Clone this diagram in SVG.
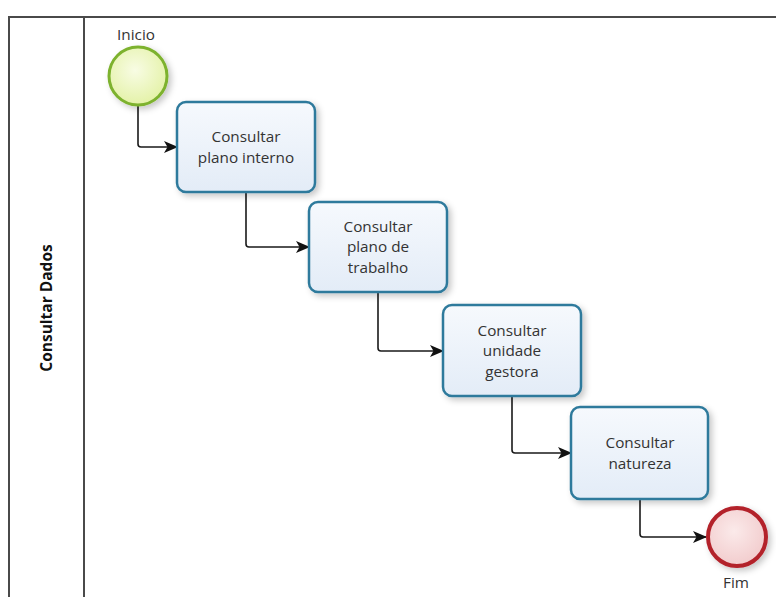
<svg xmlns="http://www.w3.org/2000/svg" width="776" height="597" viewBox="0 0 776 597">
  <style>
    .pool { fill: none; stroke: #4a4a4a; stroke-width: 2; }
    .task rect { fill: url(#taskFill); stroke: #2f7a9c; stroke-width: 2.5; filter: url(#shadow); }
    .label { font-family: "Open Sans", "Noto Sans", sans-serif; font-size: 15.3px; fill: #333; text-anchor: middle; }
    .lane { font-family: "Open Sans", "Noto Sans", sans-serif; font-size: 15.5px; font-weight: bold; fill: #111; text-anchor: middle; }
    .flow { fill: none; stroke: #1a1a1a; stroke-width: 1.6; marker-end: url(#arrow); }
  </style>
  <defs>
    <linearGradient id="taskFill" x1="0" y1="0" x2="0" y2="1">
      <stop offset="0" stop-color="#f6f9fd"/>
      <stop offset="1" stop-color="#e3ecf7"/>
    </linearGradient>
    <radialGradient id="startFill" cx="0.45" cy="0.4" r="0.6">
      <stop offset="0" stop-color="#f8fce4"/>
      <stop offset="1" stop-color="#e4f2a8"/>
    </radialGradient>
    <radialGradient id="endFill" cx="0.45" cy="0.4" r="0.6">
      <stop offset="0" stop-color="#fbeaea"/>
      <stop offset="1" stop-color="#f2cccd"/>
    </radialGradient>
    <filter id="shadow" x="-20%" y="-20%" width="150%" height="150%">
      <feDropShadow dx="3" dy="3" stdDeviation="3" flood-color="#000" flood-opacity="0.22"/>
    </filter>
    <marker id="arrow" viewBox="0 0 14 12" refX="13" refY="6" markerWidth="14" markerHeight="12" markerUnits="userSpaceOnUse" orient="auto">
      <path d="M0,0 L14,6 L0,12 L3.5,6 Z" fill="#111"/>
    </marker>
  </defs>

  <!-- pool and lane frame -->
  <g id="pool">
    <path class="pool" d="M9,597 V17 H776"/>
    <line class="pool" x1="84" y1="17" x2="84" y2="597"/>
    <text class="lane" transform="translate(52,308) rotate(-90)">Consultar Dados</text>
  </g>

  <!-- sequence flows -->
  <g id="connectors">
    <path class="flow" d="M138,106 V144 Q138,147 141,147 H177"/>
    <path class="flow" d="M246,193 V244 Q246,247 249,247 H309"/>
    <path class="flow" d="M378,293 V348 Q378,351 381,351 H443"/>
    <path class="flow" d="M512,397 V450 Q512,453 515,453 H571"/>
    <path class="flow" d="M640,500 V534 Q640,537 643,537 H706"/>
  </g>

  <g id="start">
    <circle cx="138" cy="76" r="29" fill="url(#startFill)" stroke="#7db22e" stroke-width="3" filter="url(#shadow)"/>
    <text class="label" x="136" y="40">Inicio</text>
  </g>

  <g id="task1" class="task">
    <rect x="177" y="102" width="138" height="90" rx="9"/>
    <text class="label" x="246" y="142">Consultar</text>
    <text class="label" x="246" y="163">plano interno</text>
  </g>

  <g id="task2" class="task">
    <rect x="309" y="202" width="138" height="90" rx="9"/>
    <text class="label" x="378" y="232">Consultar</text>
    <text class="label" x="378" y="252">plano de</text>
    <text class="label" x="378" y="273">trabalho</text>
  </g>

  <g id="task3" class="task">
    <rect x="443" y="305" width="138" height="91" rx="9"/>
    <text class="label" x="512" y="336">Consultar</text>
    <text class="label" x="512" y="356">unidade</text>
    <text class="label" x="512" y="377">gestora</text>
  </g>

  <g id="task4" class="task">
    <rect x="571" y="407" width="137" height="92" rx="9"/>
    <text class="label" x="640" y="448">Consultar</text>
    <text class="label" x="640" y="469">natureza</text>
  </g>

  <g id="end">
    <circle cx="737" cy="537" r="29" fill="url(#endFill)" stroke="#b3212b" stroke-width="4" filter="url(#shadow)"/>
    <text class="label" x="736" y="588">Fim</text>
  </g>
</svg>
